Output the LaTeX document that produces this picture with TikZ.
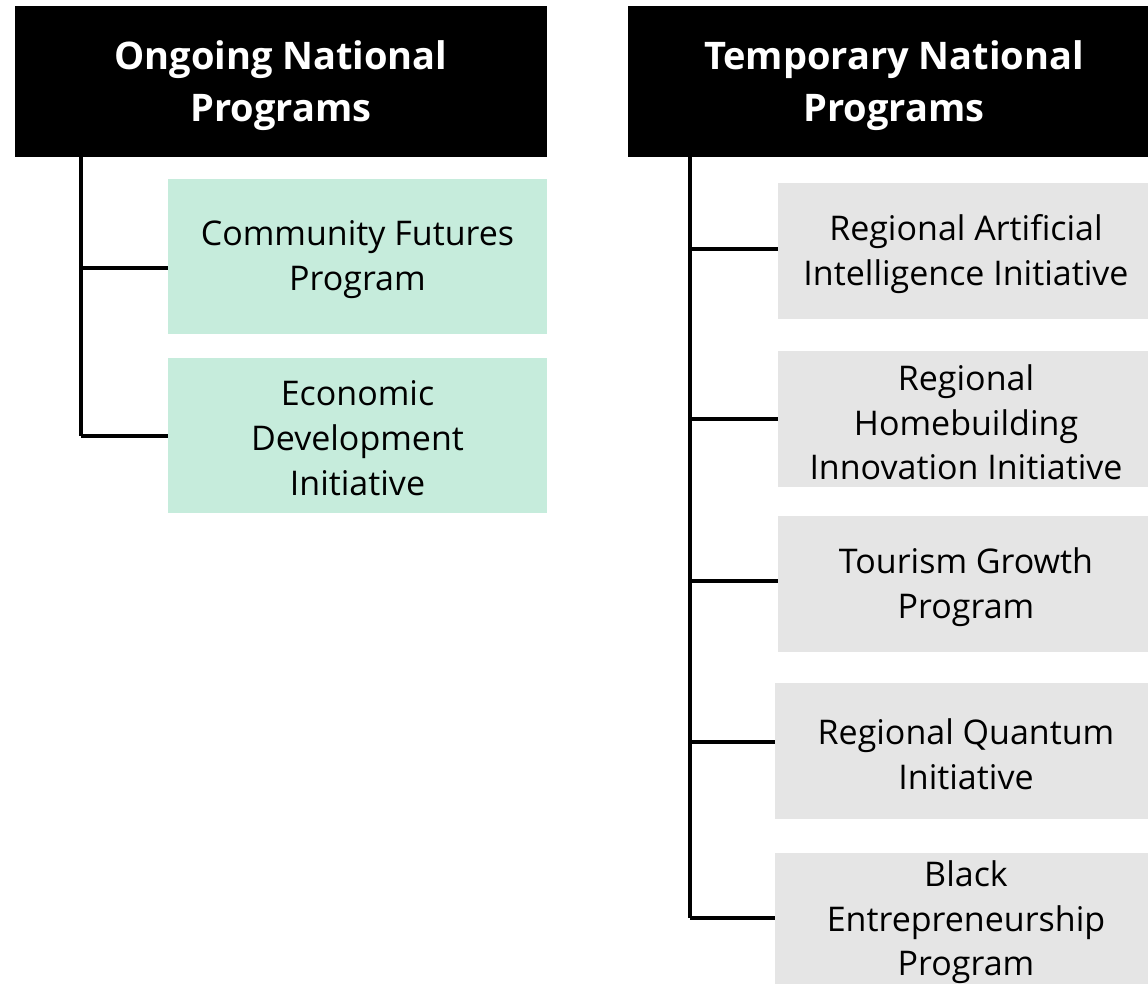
\documentclass[tikz,border=0pt]{standalone}
\usepackage{fontspec}
\setmainfont{Open Sans}
\definecolor{boxgreen}{RGB}{198,236,220}
\definecolor{boxgray}{RGB}{229,229,229}
\begin{document}
\begin{tikzpicture}[x=0.75pt,y=-0.75pt,
  header/.style={fill=black,inner sep=0pt,
    minimum width=399pt,minimum height=113.25pt},
  headtext/.style={text=white,inner sep=0pt,align=center,
    font=\bfseries\fontsize{28.5}{39}\selectfont},
  greenbox/.style={fill=boxgreen,inner sep=0pt,
    minimum width=284.25pt,minimum height=116.25pt},
  graybox/.style={fill=boxgray,inner sep=0pt,minimum height=102pt},
  bodytext/.style={inner sep=0pt,align=center,
    font=\fontsize{25.5}{33.5}\selectfont},
  conn/.style={line width=2.5pt}]
\useasboundingbox (0,0) rectangle (1148,983);
\clip (0,0) rectangle (1148,983);
% left column
\node[header] (lh) at (281,81.5) {};
\node[headtext] (lht) at ([yshift=-3pt]lh.center) {Ongoing National\\Programs};
\node[greenbox] (g1) at (357.5,256.5) {};
\node[bodytext] (g1t) at ([yshift=-2.5pt]g1.center) {Community Futures\\Program};
\node[greenbox] (g2) at (357.5,435) {};
\node[bodytext] (g2t) at ([yshift=-2.5pt]g2.center) {Economic\\Development\\Initiative};
\coordinate (lt0) at (81,157);
\coordinate (lt1) at (81,268);
\coordinate (lt2) at (81,436);
\draw[conn] (lt0) -- (lt2);
\draw[conn] (lt1) -- (lt1 -| g1.west);
\draw[conn] (lt2) -- (lt2 -| g2.west);
% right column
\node[header] (rh) at (894,81.5) {};
\node[headtext] (rht) at ([yshift=-3pt]rh.center) {Temporary National\\Programs};
\node[graybox,minimum width=282pt] (r1) at (966,251) {};
\node[bodytext] (r1t) at ([yshift=-2.5pt]r1.center) {Regional Artificial\\Intelligence Initiative};
\node[graybox,minimum width=282pt] (r2) at (966,419) {};
\node[bodytext] (r2t) at ([yshift=-2.5pt]r2.center) {Regional\\Homebuilding\\Innovation Initiative};
\node[graybox,minimum width=282pt] (r3) at (966,584) {};
\node[bodytext] (r3t) at ([yshift=-2.5pt]r3.center) {Tourism Growth\\Program};
\node[graybox,minimum width=286.5pt] (r4) at (966,751) {};
\node[bodytext] (r4t) at ([yshift=-2.5pt]r4.center) {Regional Quantum\\Initiative};
\node[graybox,minimum width=286.5pt] (r5) at (966,921) {};
\node[bodytext] (r5t) at ([yshift=-1pt]r5.center) {Black\\Entrepreneurship\\Program};
\coordinate (rt0) at (690,157);
\coordinate (rt1) at (690,249);
\coordinate (rt2) at (690,419);
\coordinate (rt3) at (690,581);
\coordinate (rt4) at (690,742);
\coordinate (rt5) at (690,918);
\draw[conn] (rt0) -- (rt5);
\foreach \i in {1,...,5} {
  \draw[conn] (rt\i) -- (rt\i -| r\i.west);
}
\end{tikzpicture}
\end{document}
